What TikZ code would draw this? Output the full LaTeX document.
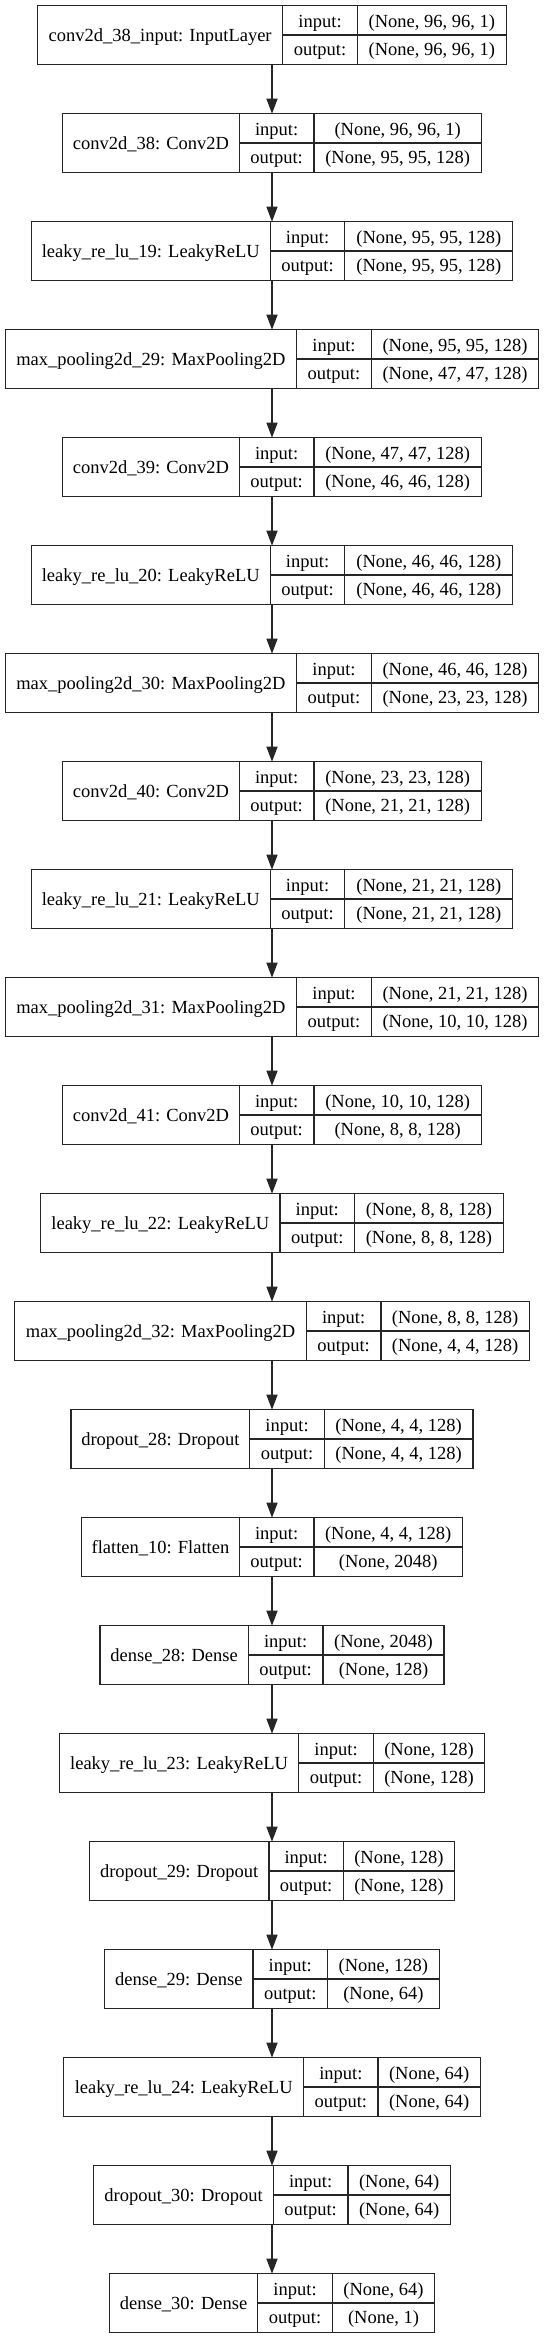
\documentclass[tikz,border=0pt]{standalone}
\usepackage{fontspec}
\setmainfont{Liberation Serif}
\usetikzlibrary{arrows.meta}
\tikzset{
  box/.style={draw=black!85, line width=1.3pt, inner sep=0pt, outer sep=0pt},
  sep/.style={draw=black!85, line width=1.3pt},
  txt/.style={anchor=base, inner sep=0pt, font=\fontsize{18.5}{21}\selectfont},
  conn/.style={draw=black!85, line width=1.3pt, -{Triangle[length=15pt,width=11pt]}}
}
% all boxes centred on x = 272
% #1 idx, #2 left edge, #3 first divider, #4 label, #5 input shape, #6 output shape
\newcommand\layerbox[6]{%
  \pgfmathsetmacro\lyt{5.7+(#1-1)*108}%
  \pgfmathsetmacro\lyb{\lyt+58.6}%
  \pgfmathsetmacro\lym{\lyt+29.3}%
  \pgfmathsetmacro\lright{544-#2}%
  \pgfmathsetmacro\ldtwo{#3+74.5}%
  \pgfmathsetmacro\lboxw{544-2*#2}%
  \node[box, minimum width=\lboxw pt, minimum height=58.6pt] (L#1) at (272,\lym) {};
  \draw[sep] (#3,\lyt) -- (#3,\lyb) (\ldtwo,\lyt) -- (\ldtwo,\lyb) (#3,\lym) -- (\lright,\lym);
  \node[txt] (L#1name) at ({(#2+#3)/2},\lyt+36) {#4};
  \node[txt] (L#1inl) at ({(#3+\ldtwo)/2},\lyt+21.5) {input:};
  \node[txt] (L#1outl) at ({(#3+\ldtwo)/2},\lyt+50) {output:};
  \node[txt] (L#1inv) at ({(\ldtwo+\lright)/2},\lyt+21.5) {#5};
  \node[txt] (L#1outv) at ({(\ldtwo+\lright)/2},\lyt+50) {#6};
}
\begin{document}
\begin{tikzpicture}[x=1pt,y=-1pt]
\fill[white] (0,0) rectangle (544,2339);
\useasboundingbox (0,0) rectangle (544,2339);
\layerbox{1}{37.5}{282.8}{conv2d\_38\_input: InputLayer}{(None, 96, 96, 1)}{(None, 96, 96, 1)}
\layerbox{2}{62.5}{239.4}{conv2d\_38: Conv2D}{(None, 96, 96, 1)}{(None, 95, 95, 128)}
\layerbox{3}{31.2}{270.3}{leaky\_re\_lu\_19: LeakyReLU}{(None, 95, 95, 128)}{(None, 95, 95, 128)}
\layerbox{4}{5.2}{296.7}{max\_pooling2d\_29: MaxPooling2D}{(None, 95, 95, 128)}{(None, 47, 47, 128)}
\layerbox{5}{62.5}{239.4}{conv2d\_39: Conv2D}{(None, 47, 47, 128)}{(None, 46, 46, 128)}
\layerbox{6}{31.2}{270.3}{leaky\_re\_lu\_20: LeakyReLU}{(None, 46, 46, 128)}{(None, 46, 46, 128)}
\layerbox{7}{5.2}{296.7}{max\_pooling2d\_30: MaxPooling2D}{(None, 46, 46, 128)}{(None, 23, 23, 128)}
\layerbox{8}{62.5}{239.4}{conv2d\_40: Conv2D}{(None, 23, 23, 128)}{(None, 21, 21, 128)}
\layerbox{9}{31.2}{270.3}{leaky\_re\_lu\_21: LeakyReLU}{(None, 21, 21, 128)}{(None, 21, 21, 128)}
\layerbox{10}{5.2}{296.7}{max\_pooling2d\_31: MaxPooling2D}{(None, 21, 21, 128)}{(None, 10, 10, 128)}
\layerbox{11}{62.5}{239.4}{conv2d\_41: Conv2D}{(None, 10, 10, 128)}{(None, 8, 8, 128)}
\layerbox{12}{40.6}{280.0}{leaky\_re\_lu\_22: LeakyReLU}{(None, 8, 8, 128)}{(None, 8, 8, 128)}
\layerbox{13}{14.6}{306.4}{max\_pooling2d\_32: MaxPooling2D}{(None, 8, 8, 128)}{(None, 4, 4, 128)}
\layerbox{14}{71.1}{249.8}{dropout\_28: Dropout}{(None, 4, 4, 128)}{(None, 4, 4, 128)}
\layerbox{15}{81.5}{239.4}{flatten\_10: Flatten}{(None, 4, 4, 128)}{(None, 2048)}
\layerbox{16}{99.9}{248.4}{dense\_28: Dense}{(None, 2048)}{(None, 128)}
\layerbox{17}{59.3}{298.8}{leaky\_re\_lu\_23: LeakyReLU}{(None, 128)}{(None, 128)}
\layerbox{18}{89.5}{268.9}{dropout\_29: Dropout}{(None, 128)}{(None, 128)}
\layerbox{19}{104.8}{253.0}{dense\_29: Dense}{(None, 128)}{(None, 64)}
\layerbox{20}{63.8}{303.6}{leaky\_re\_lu\_24: LeakyReLU}{(None, 64)}{(None, 64)}
\layerbox{21}{93.7}{273.4}{dropout\_30: Dropout}{(None, 64)}{(None, 64)}
\layerbox{22}{109.3}{257.8}{dense\_30: Dense}{(None, 64)}{(None, 1)}
\foreach \i [evaluate=\i as \j using int(\i+1)] in {1,...,21}
  \draw[conn] (L\i.south) -- (L\j.north);
\end{tikzpicture}
\end{document}
